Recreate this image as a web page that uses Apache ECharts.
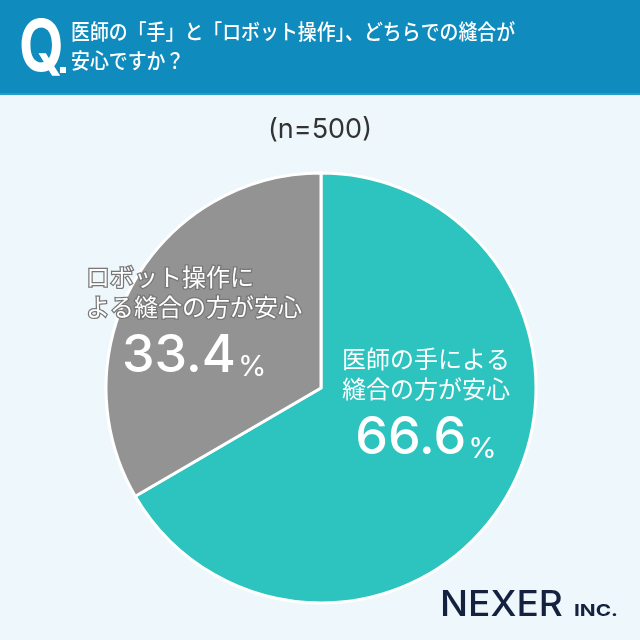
<!DOCTYPE html>
<html><head><meta charset="utf-8">
<script src="https://cdn.jsdelivr.net/npm/echarts@6/dist/echarts.min.js"></script>
<style>html,body{margin:0;padding:0;background:#eef7fc}#c{width:640px;height:640px}</style>
</head><body><div id="c"></div>
<script>
const categories = ['医師の手による\n縫合の方が安心', 'ロボット操作に\nよる縫合の方が安心'];
const values = [66.6, 33.4];
const colors = ['#2dc3be', '#939393'];
const sampleNote = '(n=500)';
const titleLine1 = '医師の「手」と「ロボット操作」、どちらでの縫合が';
const titleLine2 = '安心ですか？';

const chart = echarts.init(document.getElementById('c'));
const labelPos = [[426, 408], [86, 326]];
const CJK = '"Noto Sans CJK JP", "Noto Sans", sans-serif';

function labelFor(i) {
  const lines = categories[i].split('\n');
  const base = {
    show: true, position: 'inside', fontFamily: CJK,
    formatter: lines.map(l => '{t|' + l + '}').join('\n') + '\n{v|' + values[i].toFixed(1) + '}{p|%}',
    rich: {
      t: {fontSize: 24, color: '#fff', lineHeight: 30, fontFamily: CJK},
      v: {fontSize: 52, color: '#fff', lineHeight: 68, fontFamily: 'Inter, "Noto Sans", sans-serif', fontWeight: 500},
      p: {fontSize: 29, color: '#fff', lineHeight: 68, fontFamily: 'Inter, "Noto Sans", sans-serif', verticalAlign: 'bottom', padding: [0,0,8,2]}
    }
  };
  if (i === 1) {
    base.align = 'left';
    base.rich.t.textBorderColor = '#777777';
    base.rich.t.textBorderWidth = 2.5;
    base.rich.v.padding = [0, 0, 0, 36];
  } else {
    base.align = 'center';
  }
  return base;
}

chart.setOption({
  backgroundColor: '#eef7fc',
  animation: false,
  graphic: [
    {type: 'rect', shape: {x: 0, y: 0, width: 640, height: 93}, style: {fill: '#0f8cbd'}, z: 0},
    {type: 'rect', shape: {x: 0, y: 93, width: 640, height: 2}, style: {fill: '#1fa0c6'}, z: 0},
    {type: 'text', x: 19, y: 13, scaleX: 0.8, style: {text: 'Q', fill: '#fff', font: 'bold 72px Inter, "Noto Sans", sans-serif'}, z: 5},
    {type: 'rect', shape: {x: 60, y: 67, width: 6, height: 6}, style: {fill: '#fff'}, z: 5},
    {type: 'text', x: 71, y: 21, scaleX: 0.9, style: {text: titleLine1, fill: '#fff', font: '500 21px ' + CJK}, z: 5},
    {type: 'text', x: 71, y: 50, scaleX: 0.9, style: {text: titleLine2, fill: '#fff', font: '500 21px ' + CJK}, z: 5},
    {type: 'text', left: 'center', top: 116, style: {text: sampleNote, fill: '#333', font: '27px Inter, "Noto Sans", sans-serif'}, z: 5},
    {type: 'text', x: 440, y: 588, scaleX: 1.06, style: {text: 'NEXER', fill: '#14223f', font: '500 35px Inter, "Noto Sans", sans-serif'}, z: 5},
    {type: 'text', x: 574, y: 603, scaleX: 1.3, style: {text: 'INC.', fill: '#14223f', font: 'bold 16px Inter, "Noto Sans", sans-serif'}, z: 5}
  ],
  series: [{
    type: 'pie',
    center: [321, 388],
    radius: [0, 215],
    startAngle: 90,
    clockwise: true,
    silent: true,
    itemStyle: {borderColor: '#ffffff', borderWidth: 3},
    labelLine: {show: false},
    labelLayout: function (p) {
      const i = p.dataIndex;
      return {x: labelPos[i][0], y: labelPos[i][1], align: i === 1 ? 'left' : 'center', verticalAlign: 'middle'};
    },
    data: values.map((v, i) => ({value: v, name: categories[i], itemStyle: {color: colors[i]}, label: labelFor(i)}))
  }]
});
</script></body></html>
